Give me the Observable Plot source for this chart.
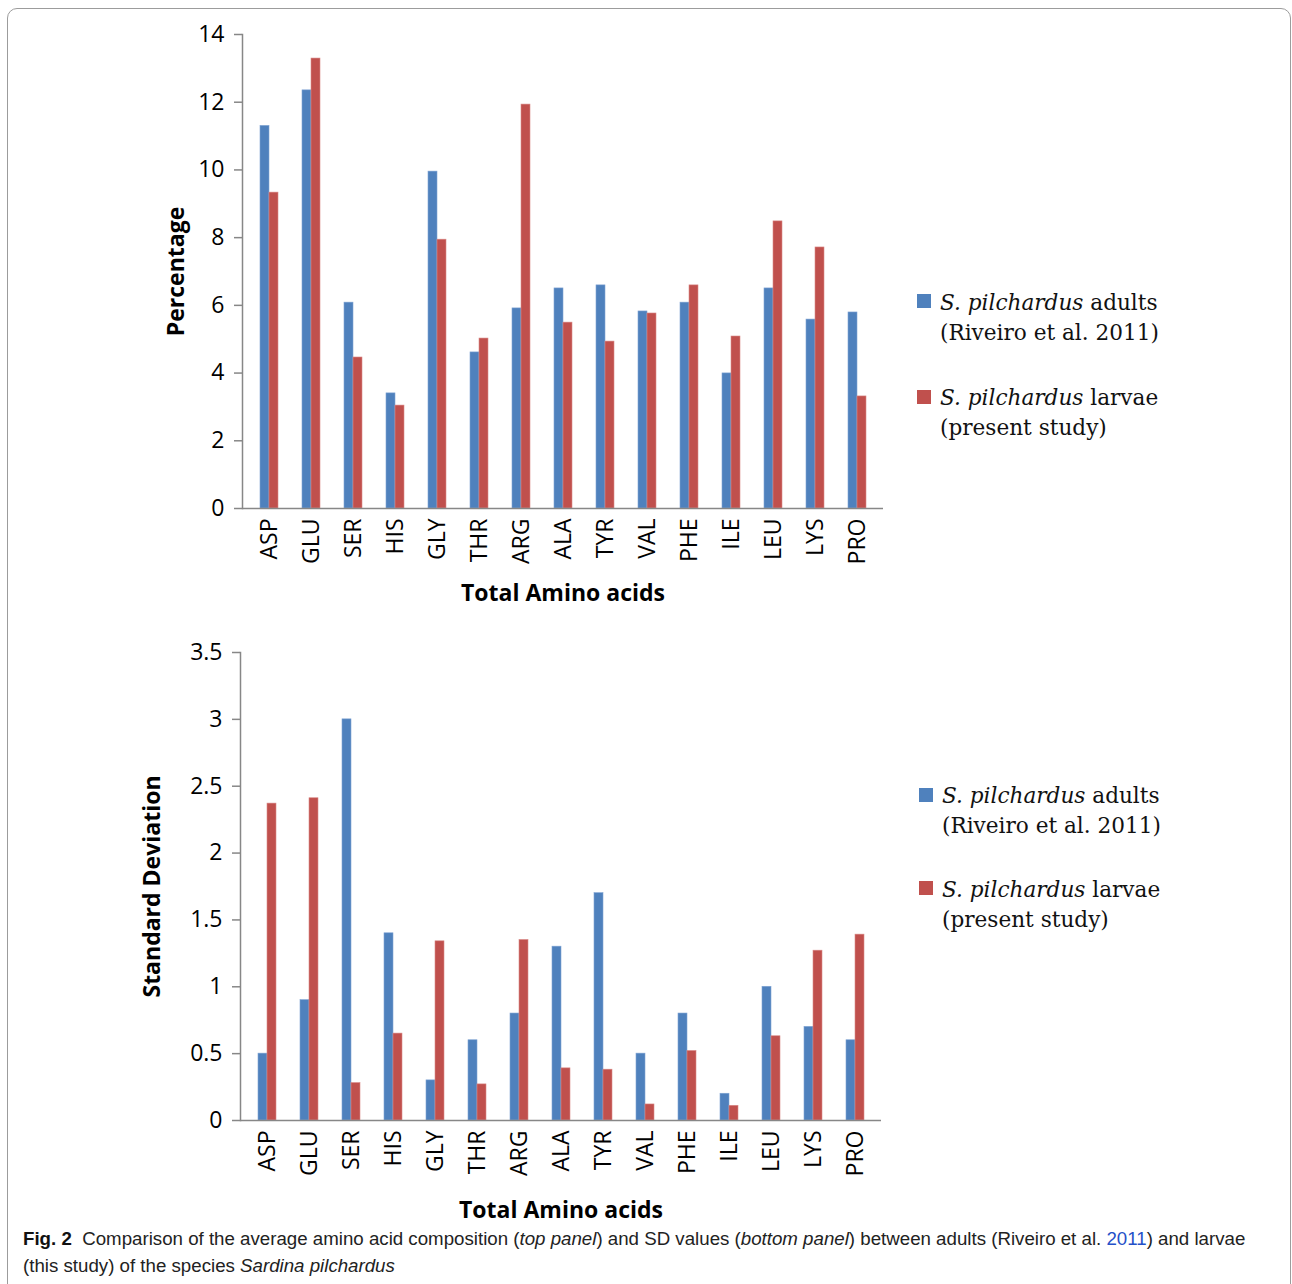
<!DOCTYPE html>
<html>
<head>
<meta charset="utf-8">
<script src="https://cdn.jsdelivr.net/npm/d3@7"></script>
<script src="https://cdn.jsdelivr.net/npm/@observablehq/plot@0.6"></script>
<style>
  html, body { margin: 0; padding: 0; background: #fff; }
  #page { position: relative; width: 1292px; height: 1284px; overflow: hidden; background: #fff; }
  #frame { position: absolute; left: 7px; top: 8px; width: 1282px; height: 1300px; border: 1px solid #9c9c9c; border-radius: 10px; }
  .plot { position: absolute; }
  .legend { position: absolute; font-family: "DejaVu Serif", "Liberation Serif", serif; font-size: 21.6px; line-height: 30px; color: #111; }
  .legend .sw { position: absolute; width: 14px; height: 14px; }
  .legend .tx { position: absolute; white-space: nowrap; }
  .capline { position: absolute; left: 23px; white-space: nowrap; font-family: "Liberation Sans", Arial, sans-serif; font-size: 18.7px; line-height: 24px; color: #222; }
  .capline b { color: #111; }
  .capline a { color: #2450c8; text-decoration: none; }
</style>
</head>
<body>
<div id="page">
  <div id="frame"></div>
</div>
<script>
const categories = ["ASP","GLU","SER","HIS","GLY","THR","ARG","ALA","TYR","VAL","PHE","ILE","LEU","LYS","PRO"];
const adultsPct = [11.3, 12.35, 6.08, 3.4, 9.95, 4.61, 5.91, 6.5, 6.59, 5.82, 6.08, 3.99, 6.5, 5.58, 5.79];
const larvaePct = [9.33, 13.29, 4.46, 3.04, 7.94, 5.02, 11.93, 5.49, 4.93, 5.76, 6.59, 5.08, 8.48, 7.71, 3.31];
const adultsSD = [0.5, 0.9, 3.0, 1.4, 0.3, 0.6, 0.8, 1.3, 1.7, 0.5, 0.8, 0.2, 1.0, 0.7, 0.6];
const larvaeSD = [2.37, 2.41, 0.28, 0.65, 1.34, 0.27, 1.35, 0.39, 0.38, 0.12, 0.52, 0.11, 0.63, 1.27, 1.39];
const pctTicks = [0, 2, 4, 6, 8, 10, 12, 14];
const sdTicks = [0, 0.5, 1, 1.5, 2, 2.5, 3, 3.5];
const seriesNames = ["adults", "larvae"];
const seriesLine2 = ["(Riveiro et al. 2011)", "(present study)"];
const xTitle = "Total Amino acids";
const yTitlePct = "Percentage";
const yTitleSD = "Standard Deviation";

const BLUE = "#4F81BD";
const RED = "#C0504D";
const AXIS = "#878787";
const FONT = "'Open Sans', Lato, sans-serif";

function makePanel({a, b, ticks, yMax, yTitle, width, height, mL, mR, mT, mB, yTitleDx, xTitleDy, tickFmt}) {
  return Plot.plot({
    width, height,
    marginLeft: mL, marginRight: mR, marginTop: mT, marginBottom: mB,
    style: {fontFamily: FONT, fontSize: "23px", color: "#000", background: "transparent", overflow: "visible"},
    x: {domain: categories, paddingInner: 0.58, paddingOuter: 0.29, label: null},
    y: {domain: [0, yMax], label: null},
    marks: [
      Plot.barY(categories, {x: categories, y: a, fill: BLUE, insetRight: 9, stroke: "#7fa3d3", strokeWidth: 0.6}),
      Plot.barY(categories, {x: categories, y: b, fill: RED, insetLeft: 9, stroke: "#d98a88", strokeWidth: 0.6}),
      Plot.ruleY([0], {stroke: AXIS, strokeWidth: 1.5}),
      Plot.frame({anchor: "left", stroke: AXIS, strokeWidth: 1.5}),
      Plot.axisY({ticks, tickSize: 8, tickPadding: 10, stroke: AXIS, strokeWidth: 1.5, fill: "#000", fontSize: 23, tickFormat: tickFmt, label: null}),
      Plot.axisX({tickSize: 0, tickPadding: 10, tickRotate: -90, fill: "#000", fontSize: 23, label: null}),
      Plot.text([xTitle], {frameAnchor: "bottom", dy: xTitleDy, text: d => d, textAnchor: "middle", lineAnchor: "middle", fontSize: 23, fontWeight: "bold", fill: "#000"}),
      Plot.text([yTitle], {frameAnchor: "left", dx: yTitleDx, rotate: -90, text: d => d, textAnchor: "middle", lineAnchor: "middle", fontSize: 23, fontWeight: "bold", fill: "#000"})
    ]
  });
}

const page = document.getElementById("page");

const topPanel = makePanel({a: adultsPct, b: larvaePct, ticks: pctTicks, yMax: 14, yTitle: yTitlePct,
  width: 760, height: 588, mL: 102, mR: 17, mT: 14, mB: 100, yTitleDx: -66, xTitleDy: 85, tickFmt: d => String(d)});
topPanel.classList.add("plot");
topPanel.style.left = "140px"; topPanel.style.top = "20px";
page.appendChild(topPanel);

const botPanel = makePanel({a: adultsSD, b: larvaeSD, ticks: sdTicks, yMax: 3.5, yTitle: yTitleSD,
  width: 760, height: 600, mL: 100, mR: 19, mT: 22, mB: 110, yTitleDx: -88, xTitleDy: 90, tickFmt: d => String(d)});
botPanel.classList.add("plot");
botPanel.style.left = "140px"; botPanel.style.top = "630px";
page.appendChild(botPanel);

function legend(x, sq, lines) {
  const colors = [BLUE, RED];
  const div = document.createElement("div");
  div.className = "legend";
  div.style.left = "0px"; div.style.top = "0px";
  seriesNames.forEach((name, i) => {
    const sw = document.createElement("div");
    sw.className = "sw";
    sw.style.background = colors[i];
    sw.style.left = x + "px";
    sw.style.top = sq[i] + "px";
    div.appendChild(sw);
    const t1 = document.createElement("div");
    t1.className = "tx";
    t1.style.left = (x + 23) + "px";
    t1.style.top = (lines[i] - 15) + "px";
    t1.innerHTML = "<i>S. pilchardus</i> " + name;
    div.appendChild(t1);
    const t2 = document.createElement("div");
    t2.className = "tx";
    t2.style.left = (x + 23) + "px";
    t2.style.top = (lines[i] + 15) + "px";
    t2.textContent = seriesLine2[i];
    div.appendChild(t2);
  });
  page.appendChild(div);
}
legend(917, [294, 390], [303, 398]);
legend(919, [788, 881], [796, 890]);

const cap1 = document.createElement("div");
cap1.className = "capline";
cap1.style.top = "1227px";
cap1.innerHTML = "<b>Fig. 2</b>&nbsp; Comparison of the average amino acid composition (<i>top panel</i>) and SD values (<i>bottom panel</i>) between adults (Riveiro et al. <a>2011</a>) and larvae";
page.appendChild(cap1);
const cap2 = document.createElement("div");
cap2.className = "capline";
cap2.style.top = "1254px";
cap2.innerHTML = "(this study) of the species <i>Sardina pilchardus</i>";
page.appendChild(cap2);
</script>
</body>
</html>
